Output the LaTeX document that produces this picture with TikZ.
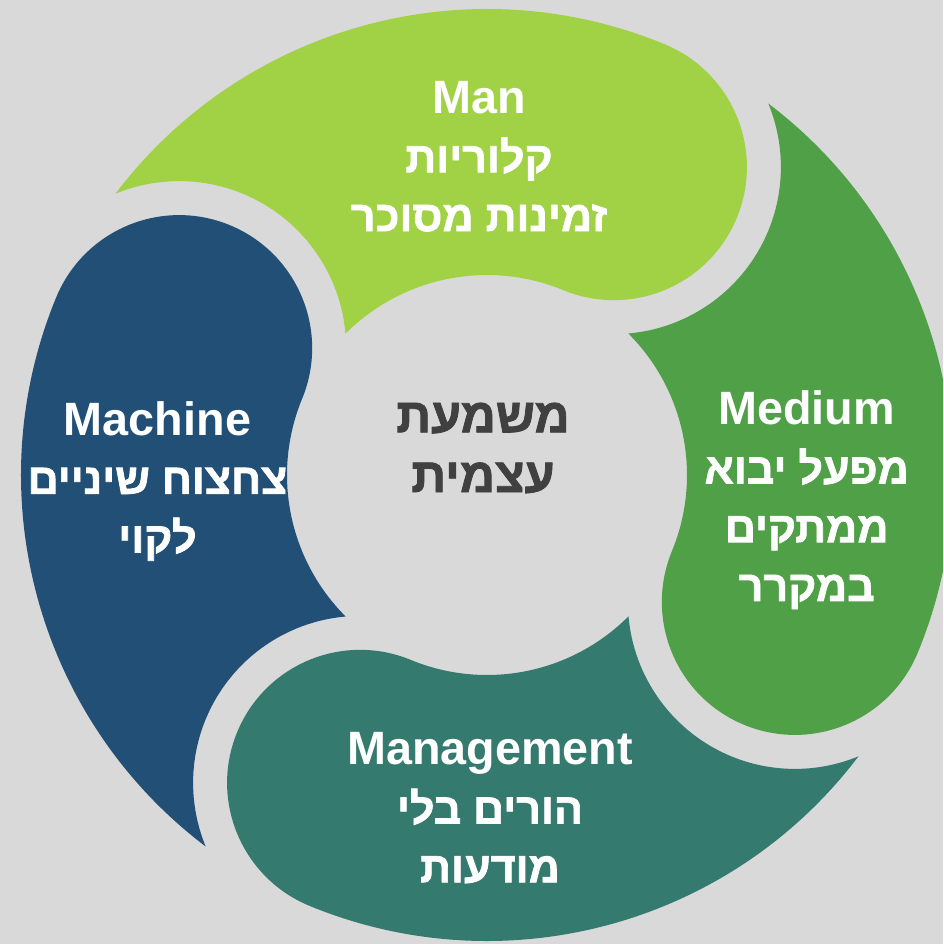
\documentclass[tikz,border=0pt]{standalone}
\usepackage{fontspec}
\setmainfont{Liberation Sans}
\newfontfamily\hebfont[Script=Hebrew, Scale=0.92, FakeBold=1.6]{Liberation Sans Bold}
\TeXXeTstate=1
\definecolor{bgc}{HTML}{D9D9D9}
\definecolor{manc}{HTML}{A1D145}
\definecolor{medc}{HTML}{4FA046}
\definecolor{mgtc}{HTML}{357A6E}
\definecolor{macc}{HTML}{224F75}
\definecolor{ctrc}{HTML}{404040}
\newcommand{\heb}[1]{{\hebfont\beginR #1\endR}}
\tikzset{
  lbl/.style={text=white, align=center, font=\bfseries\fontsize{13.3}{16.7}\selectfont},
  ctr/.style={text=ctrc, align=center, font=\bfseries\fontsize{15}{17}\selectfont}
}
\begin{document}
\begin{tikzpicture}
\fill[bgc] (-4.87,-4.69) rectangle (4.56,4.75);
\clip (-4.87,-4.69) rectangle (4.56,4.75);

% four swirls, clockwise from the top
\foreach \ang/\col in {0/manc,-90/medc,-180/mgtc,-270/macc}{
  \fill[\col, rotate=\ang] (142.86:4.66)
    arc[start angle=142.86, end angle=67.6, radius=4.66]
    arc[start angle=67.6, end angle=-112.4, radius=1.33]
    arc[start angle=67.6, end angle=135.04, radius=2]
    arc[start angle=4.95, end angle=112.41, radius=1.67] -- cycle;
}

\node[lbl] (man) at (-0.08,3.185) {Man\\\heb{קלוריות}\\\heb{זמינות מסוכר}};
\node[lbl] (medium) at (3.197,-0.25) {Medium\\\heb{מפעל יבוא}\\\heb{ממתקים}\\\heb{במקרר}};
\node[lbl] (mgmt) at (0.03,-3.33) {Management\\\heb{הורים בלי}\\\heb{מודעות}};
\node[lbl] (machine) at (-3.295,-0.06) {Machine\\\heb{צחצוח שיניים}\\\heb{לקוי}};
\node[ctr] (core) at (-0.04,0.27) {\heb{משמעת}\\\heb{עצמית}};
\end{tikzpicture}
\end{document}
